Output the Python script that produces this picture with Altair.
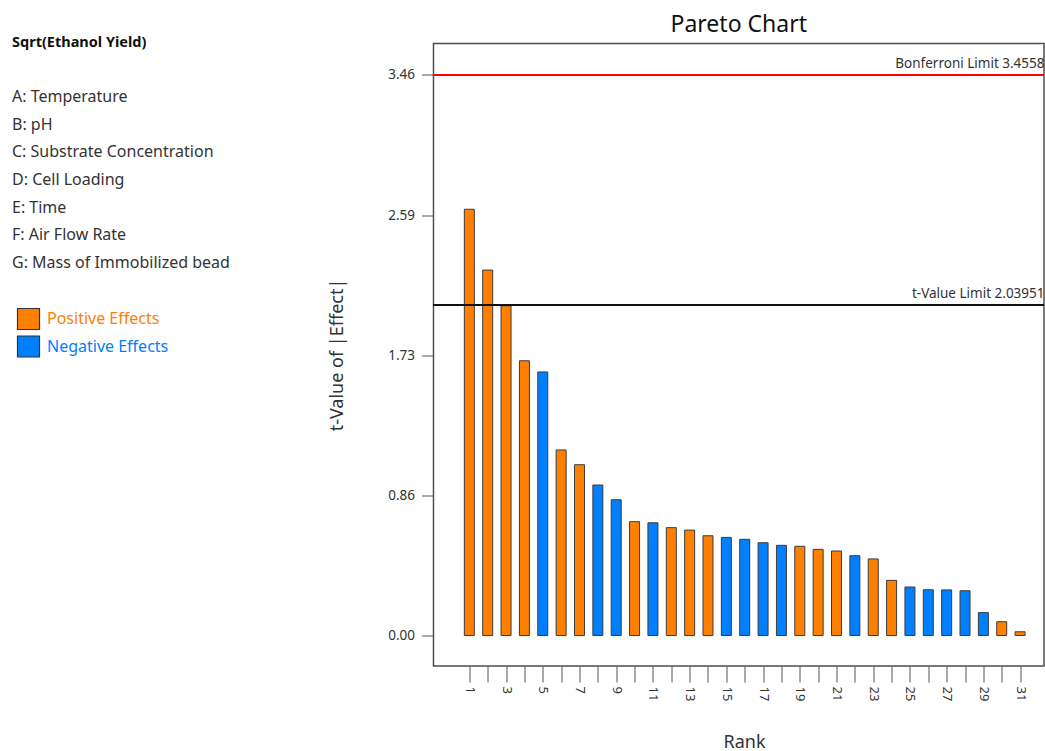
import altair as alt
import pandas as pd

# Pareto chart of standardized effects for Sqrt(Ethanol Yield)
ranks = list(range(1, 32))
t_values = [2.628, 2.253, 2.033, 1.694, 1.625, 1.144, 1.053, 0.928, 0.837, 0.702,
            0.695, 0.665, 0.650, 0.615, 0.605, 0.593, 0.572, 0.556, 0.550, 0.531,
            0.521, 0.492, 0.472, 0.340, 0.299, 0.282, 0.281, 0.276, 0.141, 0.085,
            0.023]
effect_signs = ["Positive", "Positive", "Positive", "Positive", "Negative",
                "Positive", "Positive", "Negative", "Negative", "Positive",
                "Negative", "Positive", "Positive", "Positive", "Negative",
                "Negative", "Negative", "Negative", "Positive", "Positive",
                "Positive", "Negative", "Positive", "Positive", "Negative",
                "Negative", "Negative", "Negative", "Negative", "Positive",
                "Positive"]

bonferroni_limit = 3.4558
t_value_limit = 2.03951

response_name = "Sqrt(Ethanol Yield)"
factor_names = ["A: Temperature", "B: pH", "C: Substrate Concentration",
                "D: Cell Loading", "E: Time", "F: Air Flow Rate",
                "G: Mass of Immobilized bead"]
legend_labels = ["Positive Effects", "Negative Effects"]

ORANGE = "#FF8000"
BLUE = "#0080FF"
FONT = "Noto Sans"
TEXT = "#333333"

effects = pd.DataFrame({"rank": ranks, "t": t_values, "sign": effect_signs})
y_ticks = [bonferroni_limit * k / 4 for k in range(5)]

x_scale = alt.Scale(domain=[-0.68, 32.03], nice=False, zero=False)
y_scale = alt.Scale(domain=[-0.188, 3.65], nice=False, zero=False)

bars = alt.Chart(effects).mark_bar(
    size=10, stroke="#3c3c3c", strokeWidth=1
).encode(
    x=alt.X("rank:Q", scale=x_scale, axis=alt.Axis(
        values=ranks, labelExpr="datum.value % 2 == 1 ? datum.label : ''",
        labelAngle=90, tickSize=16, labelPadding=4, labelFontSize=13,
        labelColor=TEXT, tickColor="#555555", domain=False, grid=False,
        labelFlush=False, labelOverlap=False,
        title="Rank", titleFontSize=18, titleFontWeight="normal",
        titleColor=TEXT, titleX=310.5, titleY=76, titleAlign="center",
        titleBaseline="middle")),
    y=alt.Y("t:Q", scale=y_scale, axis=alt.Axis(
        values=y_ticks, format=".2f", tickSize=12, labelPadding=7,
        labelFontSize=13.5, labelColor=TEXT, tickColor="#555555",
        domain=False, grid=False, labelFlush=False, labelOverlap=False,
        title="t-Value of |Effect|", titleFontSize=18,
        titleFontWeight="normal", titleColor=TEXT, titleX=-96.5,
        titleY=311, titleAngle=270, titleAlign="center",
        titleBaseline="middle")),
    y2=alt.datum(0),
    color=alt.Color("sign:N", scale=alt.Scale(
        domain=["Positive", "Negative"], range=[ORANGE, BLUE]), legend=None),
)

bonf_rule = alt.Chart(effects).mark_rule(color="#FF0000", strokeWidth=1.5).encode(
    y=alt.datum(bonferroni_limit))
t_rule = alt.Chart(effects).mark_rule(color="#111111", strokeWidth=1.5).encode(
    y=alt.datum(t_value_limit))


def label_mark(**kw):
    # single text item drawn once from a one-row source
    return alt.Chart(pd.DataFrame({"k": [0]})).mark_text(
        strokeWidth=0, font=FONT, **kw)


bonf_text = label_mark(
    align="right", baseline="bottom", dy=-4, fontSize=13.5, fill=TEXT
).encode(x=alt.value(611), y=alt.datum(bonferroni_limit),
         text=alt.value(f"Bonferroni Limit {bonferroni_limit}"))
t_text = label_mark(
    align="right", baseline="bottom", dy=-4, fontSize=13.5, fill=TEXT
).encode(x=alt.value(611), y=alt.datum(t_value_limit),
         text=alt.value(f"t-Value Limit {t_value_limit}"))

# Side panel: response name, factor list and effect legend
title_text = label_mark(
    align="left", baseline="middle", fontSize=14.5, fontWeight="bold",
    fill="#111111"
).encode(x=alt.value(-421.5), y=alt.value(-0.5), text=alt.value(response_name))

factor_text = label_mark(
    align="left", baseline="middle", fontSize=16, fill=TEXT,
    lineBreak="\n", lineHeight=27.67
).encode(x=alt.value(-421.5), y=alt.value(53.5),
         text=alt.value("\n".join(factor_names)))

legend_colors = [ORANGE, BLUE]
legend_layers = []
for i, (label, col) in enumerate(zip(legend_labels, legend_colors)):
    top = 265 + 27.5 * i
    legend_layers.append(
        alt.Chart(pd.DataFrame({"k": [0]})).mark_rect(
            fill=col, stroke="#333333", strokeWidth=1.2).encode(
            x=alt.value(-416), x2=alt.value(-394),
            y=alt.value(top), y2=alt.value(top + 21)))
    legend_layers.append(
        label_mark(align="left", baseline="middle", fontSize=16, fill=col
                   ).encode(x=alt.value(-386.5), y=alt.value(top + 10.5),
                            text=alt.value(label)))

chart = alt.layer(
    bars, bonf_rule, t_rule, bonf_text, t_text, title_text, factor_text,
    *legend_layers
).properties(
    width=610.5, height=622.5,
    autosize=alt.AutoSizeParams(type="none"),
    padding={"left": 433.5, "top": 43.5, "right": 1, "bottom": 85},
    title=alt.TitleParams("Pareto Chart", fontSize=23, fontWeight="normal",
                          anchor="middle", color="#111111", offset=-2, font=FONT),
).configure(
    font=FONT,
).configure_view(
    stroke="#4d4d4d", strokeWidth=1.5
)

chart.save("out.html", embed_options={"renderer": "svg", "actions": False})
